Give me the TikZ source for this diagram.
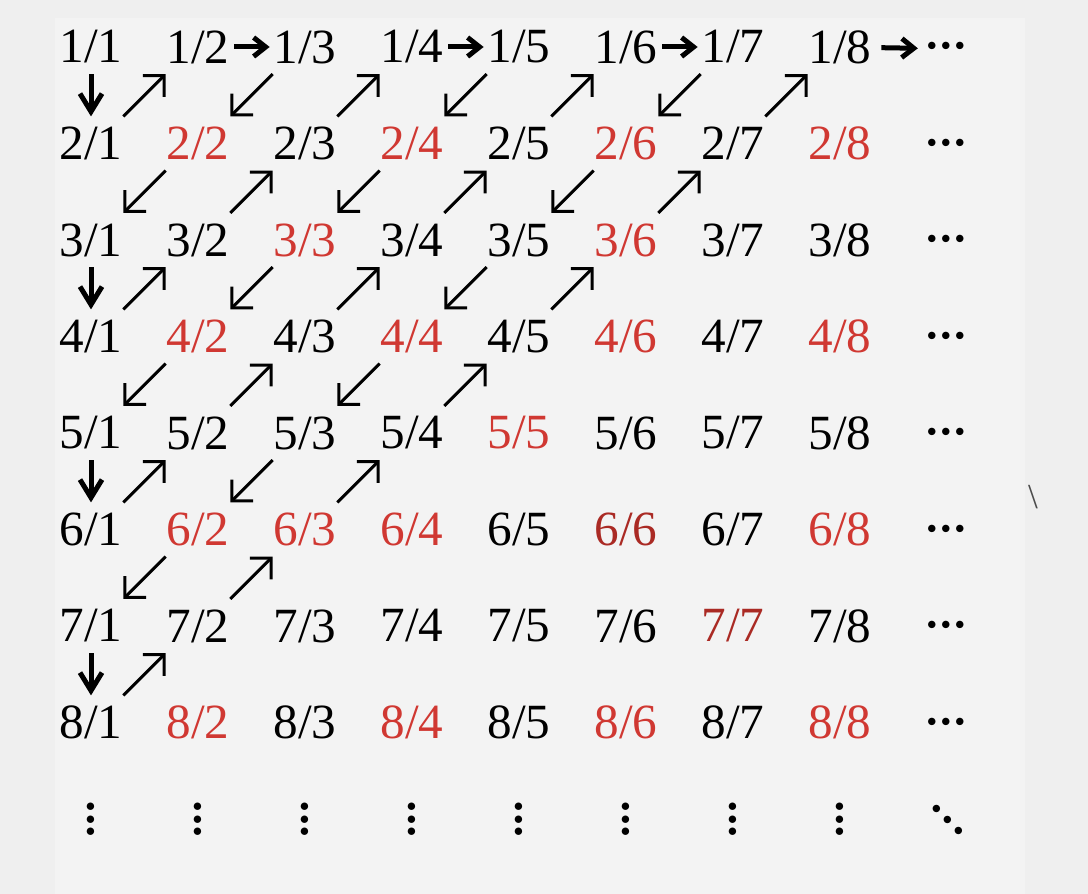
\RequirePackage{fix-cm}
\documentclass[tikz,border=0pt]{standalone}
\usepackage{fontspec}
\setmainfont{Liberation Serif}
\usetikzlibrary{arrows.meta}
\definecolor{fracred}{RGB}{208,56,50}
\definecolor{fracdark}{RGB}{170,42,36}
\definecolor{bgout}{RGB}{239,239,239}
\definecolor{bgin}{RGB}{243,243,243}
\newcommand\threedots[1][0]{${\cdot}\mkern#1mu{\cdot}\mkern#1mu{\cdot}$}

\begin{document}
\begin{tikzpicture}[
  frac/.style={inner sep=0pt,minimum width=1.28cm,minimum height=1.07cm,font=\fontsize{28}{33}\selectfont},
  dotsnode/.style={inner sep=0pt,font=\fontsize{40}{48}\selectfont},
  diag/.style={-{Straight Barb[length=0.3cm,width=0.6cm]},line width=0.06cm},
  godown/.style={-{Straight Barb[length=0.36cm,width=0.44cm]},line width=0.1cm},
  goright/.style={-{Straight Barb[length=0.24cm,width=0.38cm]},line width=0.1cm}]

\fill[bgout] (0,0) rectangle (21.76,-17.88);
\fill[bgin] (1.1,-0.36) rectangle (20.5,-17.88);
\useasboundingbox (0,0) rectangle (21.76,-17.88);

\foreach \r in {1,...,8}{
  \foreach \c in {1,...,8}{
    \pgfmathtruncatemacro\g{gcd(\r,\c)}
    \ifnum\g>1 \def\fc{fracred}\else\def\fc{black}\fi
    \ifnum\r=\c \ifnum\r>5 \ifnum\r<8 \def\fc{fracdark}\fi\fi\fi
    \node[frac,text=\fc] (n\r\c) at ({1.82+(\c-1)*2.14},{-0.94-(\r-1)*1.93}) {\r/\c};
  }
  \node[dotsnode,anchor=base] (n\r9) at (18.92,{-1.28-(\r-1)*1.93}) {\threedots[-1.4]};
}
\foreach \c in {1,...,8}
  \node[dotsnode,rotate=90] (v\c) at ({1.86+(\c-1)*2.14},-16.39) {\threedots[-1.8]};
\node[dotsnode,rotate=-45] (v9) at (18.92,-16.42) {\threedots[-1]};

\node[font=\fontsize{20}{24}\selectfont,text=black!70] (bslash) at (20.66,-9.94) {\textbackslash};

\foreach \a/\b in {11/21,31/41,51/61,71/81}
  \draw[godown] (n\a) -- (n\b);
\foreach \a/\b in {12/13,14/15,16/17}
  \draw[goright,shorten <=0.08cm,shorten >=0.06cm] (n\a) -- (n\b);
\draw[goright,shorten <=0.18cm,shorten >=0.08cm] (n18) -- (n19.west);

\foreach \a/\b in {21/12,41/32,32/23,23/14,61/52,52/43,43/34,34/25,25/16,
                   81/72,72/63,63/54,54/45,45/36,36/27,27/18}
  \draw[diag] (n\a.north east) -- (n\b.south west);
\foreach \a/\b in {13/22,22/31,15/24,24/33,33/42,42/51,
                   17/26,26/35,35/44,44/53,53/62,62/71}
  \draw[diag] (n\a.south west) -- (n\b.north east);

\end{tikzpicture}
\end{document}
